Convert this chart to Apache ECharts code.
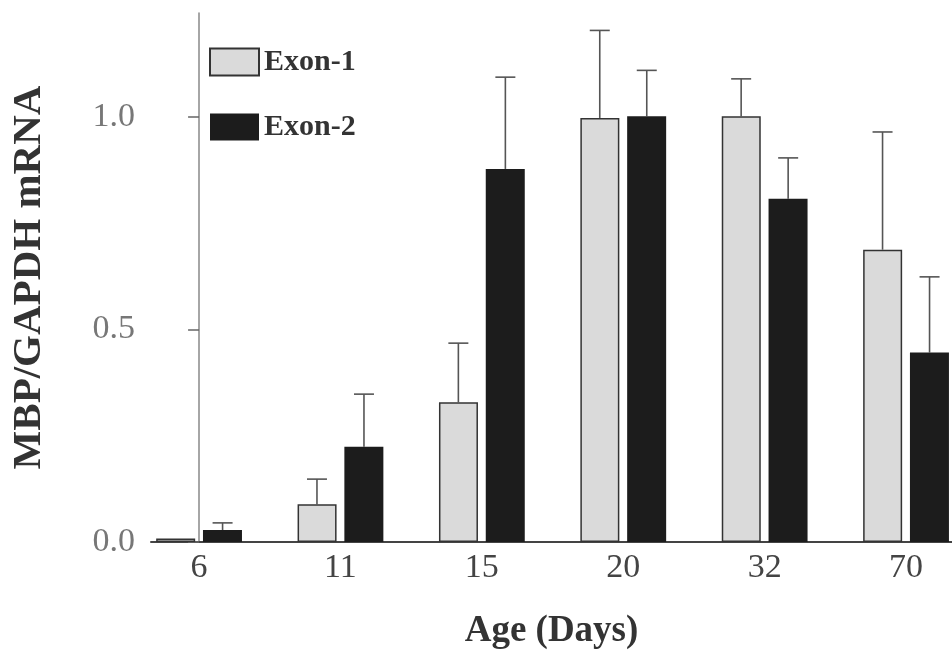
<!DOCTYPE html>
<html>
<head>
<meta charset="utf-8">
<script src="https://cdn.jsdelivr.net/npm/echarts@6/dist/echarts.min.js"></script>
<style>
  html, body { margin: 0; padding: 0; background: #fff; }
  #chart { width: 952px; height: 651px; }
</style>
</head>
<body>
<div id="chart"></div>
<script>
const ages = ['6', '11', '15', '20', '32', '70']
const exon1 = [0.008, 0.089, 0.329, 0.998, 1.002, 0.688]
const exon1Err = [0, 0.059, 0.139, 0.206, 0.088, 0.277]
const exon2 = [0.028, 0.224, 0.878, 1.002, 0.808, 0.446]
const exon2Err = [0.017, 0.124, 0.216, 0.108, 0.096, 0.178]
const yTicks = [0, 0.5, 1.0]

const serif = 'Liberation Serif'
const myChart = echarts.init(document.getElementById('chart'))

const pairs = (vals) => vals.map((v, i) => [i, v])

// error bars drawn upward from the bar top, shifted onto each bar
const errSeries = (vals, errs, shift) => ({
  type: 'custom',
  silent: true,
  z: 1,
  data: vals.map((v, i) => [i, v, errs[i]]),
  renderItem: (params, api) => {
    const i = api.value(0)
    const v = api.value(1)
    const e = api.value(2)
    if (!e) return null
    const base = api.coord([i, v])
    const top = api.coord([i, v + e])
    const x = base[0] + shift
    const style = { stroke: '#555', lineWidth: 1.6 }
    return {
      type: 'group',
      children: [
        { type: 'line', shape: { x1: x, y1: base[1], x2: x, y2: top[1] }, style },
        { type: 'line', shape: { x1: x - 10, y1: top[1], x2: x + 10, y2: top[1] }, style },
      ],
    }
  },
})

myChart.setOption({
  animation: false,
  textStyle: { fontFamily: serif },
  grid: { left: 151, right: 0, top: 13, bottom: 109, containLabel: false, outerBoundsMode: 'none' },
  legend: {
    orient: 'vertical',
    left: 209,
    top: 47,
    padding: 0,
    itemWidth: 49,
    itemHeight: 27,
    itemGap: 35,
    icon: 'rect',
    textStyle: { fontFamily: serif, fontWeight: 'bold', fontSize: 30, lineHeight: 27, color: '#333' },
    data: ['Exon-1', 'Exon-2'],
  },
  xAxis: {
    type: 'value',
    min: -0.34,
    max: 5.325,
    name: 'Age (Days)',
    nameLocation: 'middle',
    nameGap: 71,
    nameTextStyle: { fontFamily: serif, fontWeight: 'bold', fontSize: 37, color: '#333' },
    splitLine: { show: false },
    axisLine: { show: true, lineStyle: { color: '#444', width: 2 } },
    axisTick: { show: false },
    axisLabel: {
      customValues: ages.map((a, i) => i),
      formatter: (v) => ages[Math.round(v)],
      fontFamily: serif,
      fontSize: 34,
      color: '#444',
      margin: 9,
    },
  },
  yAxis: {
    type: 'value',
    min: 0,
    max: 1.245,
    name: 'MBP/GAPDH mRNA',
    nameLocation: 'middle',
    nameGap: 101,
    nameTextStyle: { fontFamily: serif, fontWeight: 'bold', fontSize: 41, color: '#333' },
    splitLine: { show: false },
    axisLine: { show: true, lineStyle: { color: '#888', width: 1.5 } },
    axisTick: {
      show: true,
      customValues: yTicks,
      length: 11,
      lineStyle: { color: '#666', width: 1.5 },
    },
    axisLabel: {
      customValues: yTicks,
      formatter: (v) => v.toFixed(1),
      fontFamily: serif,
      fontSize: 34,
      color: '#777',
      margin: 16,
    },
  },
  series: [
    {
      name: 'Exon-1',
      type: 'bar',
      barWidth: 39,
      barGap: '20%',
      z: 2,
      data: pairs(exon1),
      itemStyle: { color: '#dadada', borderColor: '#333', borderWidth: 1.5 },
    },
    {
      name: 'Exon-2',
      type: 'bar',
      barWidth: 39,
      barGap: '20%',
      z: 2,
      data: pairs(exon2),
      itemStyle: { color: '#1c1c1c' },
    },
    errSeries(exon1, exon1Err, -23.5),
    errSeries(exon2, exon2Err, 23.5),
  ],
})
</script>
</body>
</html>
